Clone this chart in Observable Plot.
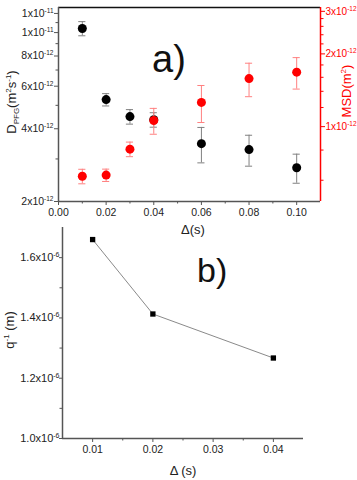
<!DOCTYPE html>
<html><head><meta charset="utf-8">
<script src="https://cdn.jsdelivr.net/npm/d3@7"></script>
<script src="https://cdn.jsdelivr.net/npm/@observablehq/plot@0.6"></script>
<style>
body{margin:0;background:#fff;}
#wrap{position:relative;width:357px;height:480px;font-family:"Liberation Sans",Arial,sans-serif;}
#wrap svg{position:absolute;left:0;overflow:visible;}
</style></head><body><div id="wrap"></div>
<script>
// ---- panel a) data ----
const delta = [0.01, 0.02, 0.03, 0.04, 0.06, 0.08, 0.10];
const dPFG = [1.04e-11, 5.28e-12, 4.49e-12, 4.36e-12, 3.47e-12, 3.28e-12, 2.76e-12];
const dPFGErr = [0.7e-12, 0.31e-12, 0.31e-12, 0.3e-12, 0.58e-12, 0.48e-12, 0.38e-12];
const msd = [0.623e-12, 0.63e-12, 0.807e-12, 1.06e-12, 1.26e-12, 1.58e-12, 1.68e-12];
const msdErr = [0.043e-12, 0.037e-12, 0.056e-12, 0.13e-12, 0.22e-12, 0.25e-12, 0.25e-12];
const xTicksA = [0, 0.02, 0.04, 0.06, 0.08, 0.10];
const xMinorA = [0.01, 0.03, 0.05, 0.07, 0.09];
const yTicksD = [2e-12, 4e-12, 6e-12, 8e-12, 1e-11, 1.2e-11];
const yLabelsD = ["2x10⁻¹²", "4x10⁻¹²", "6x10⁻¹²", "8x10⁻¹²", "1x10⁻¹¹", "1x10⁻¹¹"];
const yMinorD = [3e-12, 5e-12, 7e-12, 9e-12, 1.1e-11];
const yTicksMSD = [1e-12, 2e-12, 3e-12];
const yLabelsMSD = ["1x10⁻¹²", "2x10⁻¹²", "3x10⁻¹²"];
const yMinorMSD = [0.6e-12, 0.8e-12, 1.2e-12, 1.4e-12, 1.6e-12, 1.8e-12, 2.2e-12, 2.4e-12, 2.6e-12, 2.8e-12];
const dDomain = [2e-12, 1.27e-11];
const msdDomain = [0.49e-12, 3.1e-12];

// ---- panel b) data ----
const deltaB = [0.01, 0.02, 0.04];
const qInv = [1.66e-6, 1.413e-6, 1.267e-6];
const xTicksB = [0.01, 0.02, 0.03, 0.04];
const xMinorB = [0.015, 0.025, 0.035];
const yTicksB = [1.0e-6, 1.2e-6, 1.4e-6, 1.6e-6];
const yLabelsB = ["1.0x10⁻⁶", "1.2x10⁻⁶", "1.4x10⁻⁶", "1.6x10⁻⁶"];
const yMinorB = [1.1e-6, 1.3e-6, 1.5e-6];

const FONT = '"Liberation Sans", Arial, sans-serif';
const AX = "#555";
const k = dDomain[0] / msdDomain[0]; // maps MSD onto the D (left) log scale

const dataD = delta.map((x, i) => ({x, y: dPFG[i], e: dPFGErr[i]}));
const dataM = delta.map((x, i) => ({x, y: msd[i] * k, lo: (msd[i] - msdErr[i]) * k, hi: (msd[i] + msdErr[i]) * k}));
const cap = 0.0015;

// turn unicode superscripts in tick labels into small raised tspans
const supMap = {"⁻": "-", "⁰": "0", "¹": "1", "²": "2", "³": "3", "⁴": "4", "⁵": "5", "⁶": "6", "⁷": "7", "⁸": "8", "⁹": "9"};
function supify(svg, supSize) {
  d3.select(svg).selectAll("text").each(function () {
    const t = this.textContent;
    const m = t.match(/^([^⁻⁰¹²³⁴⁵⁶⁷⁸⁹]+)([⁻⁰¹²³⁴⁵⁶⁷⁸⁹]+)$/);
    if (!m) return;
    const sup = [...m[2]].map(c => supMap[c]).join("");
    this.textContent = "";
    const s = d3.select(this);
    s.append("tspan").text(m[1]);
    s.append("tspan").attr("dy", -4).attr("font-size", supSize).text(sup);
  });
}

const wrap = document.getElementById("wrap");

const plotA = Plot.plot({
  width: 357, height: 240,
  marginLeft: 58, marginRight: 37, marginTop: 7, marginBottom: 39,
  x: {domain: [0, 0.11]},
  y: {type: "log", domain: dDomain},
  style: {fontFamily: FONT, fontSize: "10.5px", background: "transparent", color: "#222"},
  marks: [
    Plot.axisX({ticks: xTicksA, tickFormat: d3.format(".2f"), tickSize: 4, tickPadding: 3, label: null, stroke: AX}),
    Plot.axisX({ticks: xMinorA, tickFormat: () => "", tickSize: 2.5, label: null, stroke: AX}),
    Plot.axisY({ticks: yTicksD, tickFormat: d => yLabelsD[yTicksD.indexOf(d)], tickSize: 4, tickPadding: 1, label: null, stroke: AX, fontSize: 10.5}),
    Plot.axisY({ticks: yMinorD, tickFormat: () => "", tickSize: 2.5, label: null, stroke: AX}),
    Plot.axisY({anchor: "right", ticks: yTicksMSD.map(v => v * k), tickFormat: d => yLabelsMSD[yTicksMSD.findIndex(v => Math.abs(v * k - d) < 1e-16)], tickSize: 4, tickPadding: 1, label: null, stroke: "red", fill: "red", fontSize: 10}),
    Plot.axisY({anchor: "right", ticks: yMinorMSD.map(v => v * k), tickFormat: () => "", tickSize: 2.5, label: null, stroke: "red"}),
    Plot.ruleY([dDomain[1]], {stroke: "#111", strokeWidth: 1.5}),
    Plot.ruleY([dDomain[0]], {stroke: AX, strokeWidth: 1.5}),
    Plot.ruleX([0], {stroke: AX, strokeWidth: 1.5}),
    Plot.ruleX([0.11], {stroke: "red", strokeWidth: 1.5}),
    // black series error bars
    Plot.ruleX(dataD, {x: "x", y1: d => d.y - d.e, y2: d => d.y + d.e, stroke: "#808080", strokeWidth: 1}),
    Plot.ruleY(dataD, {y: d => d.y - d.e, x1: d => d.x - cap, x2: d => d.x + cap, stroke: "#808080", strokeWidth: 1}),
    Plot.ruleY(dataD, {y: d => d.y + d.e, x1: d => d.x - cap, x2: d => d.x + cap, stroke: "#808080", strokeWidth: 1}),
    Plot.dot(dataD, {x: "x", y: "y", r: 4.5, fill: "black"}),
    // red series error bars
    Plot.ruleX(dataM, {x: "x", y1: "lo", y2: "hi", stroke: "#ff8080", strokeWidth: 1}),
    Plot.ruleY(dataM, {y: "lo", x1: d => d.x - cap, x2: d => d.x + cap, stroke: "#ff8080", strokeWidth: 1}),
    Plot.ruleY(dataM, {y: "hi", x1: d => d.x - cap, x2: d => d.x + cap, stroke: "#ff8080", strokeWidth: 1}),
    Plot.dot(dataM, {x: "x", y: "y", r: 4.5, fill: "red"})
  ]
});
plotA.style.top = "0px";
supify(plotA, 6.5);
wrap.appendChild(plotA);

const sa = d3.select(plotA);
// left y label
const ylA = sa.append("text").attr("transform", "translate(16,102) rotate(-90)")
  .attr("text-anchor", "middle").attr("font-size", 13).attr("fill", "#222").attr("font-family", FONT);
ylA.append("tspan").text("D");
ylA.append("tspan").attr("dy", 3).attr("font-size", 8).text("PFG");
ylA.append("tspan").attr("dy", -3).text("(m");
ylA.append("tspan").attr("dy", -5).attr("font-size", 8).text("2");
ylA.append("tspan").attr("dy", 5).text("s");
ylA.append("tspan").attr("dy", -5).attr("font-size", 8).text("-1");
ylA.append("tspan").attr("dy", 5).text(")");
// right y label
const yrA = sa.append("text").attr("transform", "translate(351,91) rotate(-90)")
  .attr("text-anchor", "middle").attr("font-size", 13).attr("fill", "red").attr("font-family", FONT);
yrA.append("tspan").text("MSD(m");
yrA.append("tspan").attr("dy", -5).attr("font-size", 8).text("2");
yrA.append("tspan").attr("dy", 5).text(")");
// x label
sa.append("text").attr("x", 193).attr("y", 234).attr("text-anchor", "middle")
  .attr("font-size", 13).attr("fill", "#222").attr("font-family", FONT).text("Δ(s)");
// panel tag
sa.append("text").attr("x", 152).attr("y", 72).attr("text-anchor", "start").attr("font-size", 38).attr("fill", "#111")
  .attr("font-family", FONT).text("a)");

// ---- panel b ----
const dataB = deltaB.map((x, i) => ({x, y: qInv[i]}));
const plotB = Plot.plot({
  width: 357, height: 258,
  marginLeft: 62, marginRight: 54, marginTop: 5, marginBottom: 42,
  x: {domain: [0.005, 0.045]},
  y: {domain: [1.0e-6, 1.7e-6]},
  style: {fontFamily: FONT, fontSize: "10.5px", background: "transparent", color: "#222"},
  marks: [
    Plot.axisX({ticks: xTicksB, tickFormat: d3.format(".2f"), tickSize: 4, tickPadding: 3, label: null, stroke: AX}),
    Plot.axisX({ticks: xMinorB, tickFormat: () => "", tickSize: 2.5, label: null, stroke: AX}),
    Plot.axisY({ticks: yTicksB, tickFormat: d => yLabelsB[yTicksB.indexOf(d)], tickSize: 3, tickPadding: 0, label: null, stroke: AX, fontSize: 11}),
    Plot.axisY({ticks: yMinorB, tickFormat: () => "", tickSize: 2.5, label: null, stroke: AX}),
    Plot.ruleX([0.005], {stroke: AX, strokeWidth: 1.5}),
    Plot.ruleY([1.0e-6], {stroke: AX, strokeWidth: 1.5}),
    Plot.line(dataB, {x: "x", y: "y", stroke: "#8a8a8a", strokeWidth: 1}),
    Plot.dot(dataB, {x: "x", y: "y", symbol: "square", r: 3, fill: "black"})
  ]
});
plotB.style.top = "222px";
supify(plotB, 7);
wrap.appendChild(plotB);

const sb = d3.select(plotB);
const ylB = sb.append("text").attr("transform", "translate(14,108) rotate(-90)")
  .attr("text-anchor", "middle").attr("font-size", 13).attr("fill", "#222").attr("font-family", FONT);
ylB.append("tspan").text("q");
ylB.append("tspan").attr("dy", -5).attr("font-size", 8).text("-1");
ylB.append("tspan").attr("dy", 5).text(" (m)");
sb.append("text").attr("x", 183).attr("y", 253).attr("text-anchor", "middle")
  .attr("font-size", 13).attr("fill", "#222").attr("font-family", FONT).text("Δ (s)");
sb.append("text").attr("x", 197).attr("y", 60).attr("text-anchor", "start").attr("font-size", 34).attr("fill", "#111")
  .attr("font-family", FONT).text("b)");
</script></body></html>
